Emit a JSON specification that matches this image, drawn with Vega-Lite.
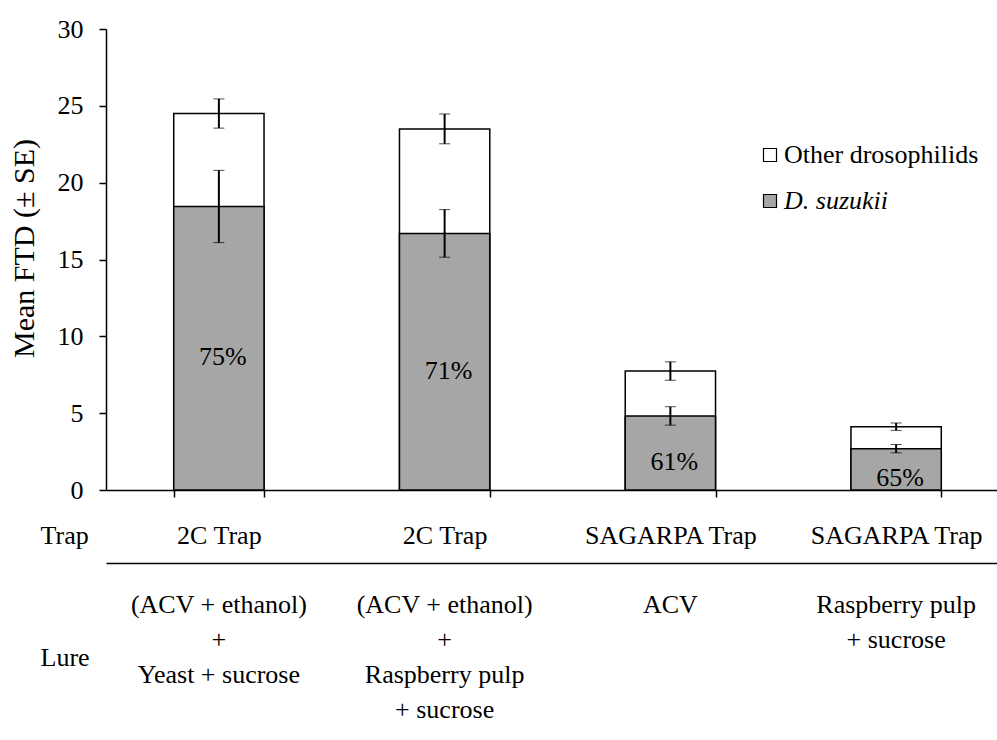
{
  "$schema": "https://vega.github.io/schema/vega-lite/v6.json",
  "autosize": {"type": "none"},
  "width": 891,
  "height": 461,
  "padding": {"left": 106, "top": 29, "right": 0, "bottom": 250},
  "background": "white",
  "config": {
    "view": {"stroke": null},
    "font": "Liberation Serif, Times New Roman, Times, serif",
    "text": {"font": "Liberation Serif, Times New Roman, Times, serif"}
  },
  "data": {
    "values": [
      {"treatment": "2C Trap|(ACV + ethanol)|+|Yeast + sucrose", "total": 24.5, "total_se": 0.95, "suzukii": 18.45, "suzukii_se": 2.35, "pct": "75%"},
      {"treatment": "2C Trap|(ACV + ethanol)|+|Raspberry pulp|+ sucrose", "total": 23.5, "total_se": 0.97, "suzukii": 16.7, "suzukii_se": 1.55, "pct": "71%"},
      {"treatment": "SAGARPA Trap|ACV", "total": 7.74, "total_se": 0.6, "suzukii": 4.82, "suzukii_se": 0.6, "pct": "61%"},
      {"treatment": "SAGARPA Trap|Raspberry pulp|+ sucrose", "total": 4.12, "total_se": 0.24, "suzukii": 2.69, "suzukii_se": 0.27, "pct": "65%"}
    ]
  },
  "encoding": {
    "x": {
      "field": "treatment",
      "type": "nominal",
      "sort": null,
      "scale": {"range": [0, 903], "paddingInner": 0.6, "paddingOuter": 0.3}
    }
  },
  "layer": [
    {
      "mark": {"type": "bar", "stroke": "black", "strokeWidth": 1.5},
      "encoding": {
        "x": {
          "field": "treatment",
          "type": "nominal",
          "sort": null,
          "axis": {
            "orient": "bottom",
            "title": "Trap",
            "titleFont": "Liberation Serif, Times New Roman, Times, serif",
            "titleFontSize": 26,
            "titleFontWeight": "normal",
            "titleColor": "black",
            "titleAngle": 0,
            "titleAlign": "left",
            "titleBaseline": "alphabetic",
            "titleAnchor": null,
            "titleX": -66,
            "titleY": 53,
            "labelExpr": "isValid(datum.value) ? split(datum.value, '|')[0] : ''",
            "labelAngle": 0,
            "labelFont": "Liberation Serif, Times New Roman, Times, serif",
            "labelFontSize": 26,
            "labelColor": "black",
            "labelBaseline": "alphabetic",
            "labelPadding": 46,
            "labelOverlap": false,
            "labelBound": false,
            "labelLimit": 400,
            "tickBand": "extent",
            "tickSize": 7,
            "tickColor": "black",
            "tickWidth": 1.5,
            "domainColor": "black",
            "domainWidth": 1.5
          }
        },
        "y": {
          "field": "total",
          "type": "quantitative",
          "title": "Mean FTD (± SE)",
          "scale": {"domain": [0, 30]},
          "axis": {
            "titleFont": "Liberation Serif, Times New Roman, Times, serif",
            "titleFontSize": 30,
            "titleFontWeight": "normal",
            "titleColor": "black",
            "titleAngle": -90,
            "titleAlign": "center",
            "titleBaseline": "alphabetic",
            "titleX": -73,
            "titleY": 219,
            "values": [0, 5, 10, 15, 20, 25, 30],
            "grid": false,
            "labelFont": "Liberation Serif, Times New Roman, Times, serif",
            "labelFontSize": 26,
            "labelColor": "black",
            "labelPadding": 16,
            "tickSize": 7,
            "tickColor": "black",
            "tickWidth": 1.5,
            "domainColor": "black",
            "domainWidth": 1.5
          }
        },
        "color": {
          "datum": "Other drosophilids",
          "type": "nominal",
          "scale": {"domain": ["Other drosophilids", "D. suzukii"], "range": ["white", "#a6a6a6"]},
          "legend": {
            "title": null,
            "orient": "none",
            "legendX": 651,
            "legendY": 113,
            "padding": 0,
            "symbolType": "square",
            "symbolSize": 169,
            "symbolStrokeColor": "black",
            "symbolStrokeWidth": 1.2,
            "symbolOpacity": 1,
            "symbolOffset": 0,
            "labelFont": "Liberation Serif, Times New Roman, Times, serif",
            "labelFontSize": 26,
            "labelColor": "black",
            "labelOffset": 1,
            "labelLimit": 400,
            "rowPadding": 20,
            "encode": {
              "labels": {"update": {"fontStyle": {"signal": "datum.label == 'D. suzukii' ? 'italic' : 'normal'"}}},
              "symbols": {"update": {"stroke": {"value": "black"}}}
            }
          }
        }
      }
    },
    {
      "mark": {"type": "bar", "stroke": "black", "strokeWidth": 1.5},
      "encoding": {
        "x": {
          "field": "treatment",
          "type": "nominal",
          "sort": null,
          "axis": {
            "orient": "bottom",
            "offset": 73,
            "title": "Lure",
            "titleFont": "Liberation Serif, Times New Roman, Times, serif",
            "titleFontSize": 26,
            "titleFontWeight": "normal",
            "titleColor": "black",
            "titleAngle": 0,
            "titleAlign": "left",
            "titleBaseline": "alphabetic",
            "titleAnchor": null,
            "titleX": -66,
            "titleY": 102,
            "labelExpr": "isValid(datum.value) ? slice(split(datum.value, '|'), 1) : ''",
            "labelAngle": 0,
            "labelFont": "Liberation Serif, Times New Roman, Times, serif",
            "labelFontSize": 26,
            "labelColor": "black",
            "labelBaseline": "alphabetic",
            "labelLineHeight": 35,
            "labelPadding": 49,
            "labelOverlap": false,
            "labelBound": false,
            "labelLimit": 400,
            "ticks": false,
            "tickSize": 0,
            "domainColor": "black",
            "domainWidth": 1.5
          }
        },
        "y": {"field": "suzukii", "type": "quantitative", "title": "Mean FTD (± SE)"},
        "color": {"datum": "D. suzukii", "type": "nominal"}
      }
    },
    {
      "mark": {"type": "errorbar", "ticks": {"size": 11, "color": "black", "strokeWidth": 2}, "rule": {"color": "black", "strokeWidth": 2}},
      "encoding": {
        "x": {"field": "treatment", "type": "nominal", "sort": null, "axis": null},
        "y": {"field": "total", "type": "quantitative", "title": "Mean FTD (± SE)"},
        "yError": {"field": "total_se"}
      }
    },
    {
      "mark": {"type": "errorbar", "ticks": {"size": 11, "color": "black", "strokeWidth": 2}, "rule": {"color": "black", "strokeWidth": 2}},
      "encoding": {
        "x": {"field": "treatment", "type": "nominal", "sort": null, "axis": null},
        "y": {"field": "suzukii", "type": "quantitative", "title": "Mean FTD (± SE)"},
        "yError": {"field": "suzukii_se"}
      }
    },
    {
      "transform": [{"calculate": "datum.suzukii / 2", "as": "label_pos"}],
      "mark": {"type": "text", "font": "Liberation Serif, Times New Roman, Times, serif", "fontSize": 26, "color": "black", "baseline": "middle", "dy": 9, "dx": 4},
      "encoding": {
        "x": {"field": "treatment", "type": "nominal", "sort": null, "axis": null},
        "y": {"field": "label_pos", "type": "quantitative", "title": "Mean FTD (± SE)"},
        "text": {"field": "pct"}
      }
    }
  ],
  "resolve": {"axis": {"x": "independent"}}
}
